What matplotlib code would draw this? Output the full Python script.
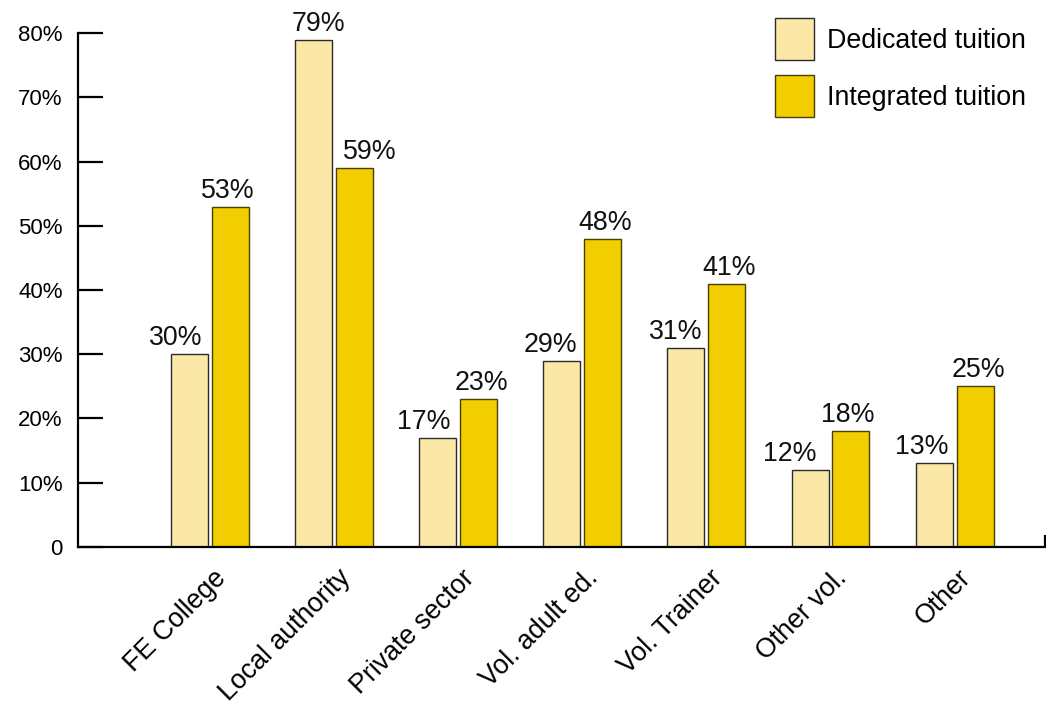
import matplotlib
matplotlib.use("Agg")
import matplotlib.pyplot as plt
import matplotlib.transforms as mtransforms
import numpy as np

plt.rcParams['font.family'] = ['Liberation Sans', 'DejaVu Sans']

categories = ["FE College", "Local authority", "Private sector", "Vol. adult ed.",
              "Vol. Trainer", "Other vol.", "Other"]
dedicated = [30, 79, 17, 29, 31, 12, 13]
integrated = [53, 59, 23, 48, 41, 18, 25]
series_names = ["Dedicated tuition", "Integrated tuition"]
ytick_values = [0, 10, 20, 30, 40, 50, 60, 70, 80]
ytick_labels = ["0", "10%", "20%", "30%", "40%", "50%", "60%", "70%", "80%"]

# style: horizontal nudges (pixels) of value labels
ded_dx = [-14, 5, -14, -11, -10, -20, -12]
int_dx = [-3, 15, 3, 2, 2, -3, 3]

light = "#FCE8A6"
gold = "#F2CE00"
light_edge = "#2b2b2b"
gold_edge = "#4a3f00"

W, H = 1046, 707
fig = plt.figure(figsize=(W / 100, H / 100), dpi=100)
ax_left, ax_right = 78, 1045
ax_top, ax_bottom = 33.3, 546.7
ax = fig.add_axes([ax_left / W, 1 - ax_bottom / H, (ax_right - ax_left) / W, (ax_bottom - ax_top) / H])

x = np.arange(len(categories))
bw = 0.298
off = 0.165
b1 = ax.bar(x - off, dedicated, bw, color=light, edgecolor=light_edge, linewidth=1.0, label=series_names[0])
b2 = ax.bar(x + off, integrated, bw, color=gold, edgecolor=gold_edge, linewidth=1.0, label=series_names[1])

for bars, vals, dxs in ((b1, dedicated, ded_dx), (b2, integrated, int_dx)):
    for rect, v, dx in zip(bars, vals, dxs):
        ax.annotate(f"{v}%", (rect.get_x() + rect.get_width() / 2, v),
                    xytext=(dx * 0.72, 6.5), textcoords="offset points",
                    ha="center", va="baseline", fontsize=19.3, color="#111111",
                    annotation_clip=False)

spacing = 124.1
x0 = 210
ax.set_xlim((ax_left - x0) / spacing, (ax_right - x0) / spacing)
ax.set_ylim(0, 80)

for s in ("top", "right"):
    ax.spines[s].set_visible(False)
ax.spines["left"].set_linewidth(1.6)
ax.spines["bottom"].set_linewidth(1.6)

ax.set_yticks(ytick_values)
ax.set_yticklabels(ytick_labels, fontsize=16)
ax.tick_params(axis="y", direction="in", length=18, width=1.6, pad=11, colors="black")

ax.set_xticks(x)
ax.set_xticklabels(categories, fontsize=19.3, rotation=45, ha="right", rotation_mode="anchor")
ax.tick_params(axis="x", length=0, pad=13)
offset = mtransforms.ScaledTranslation(3 / 100, 0, fig.dpi_scale_trans)
for lab in ax.get_xticklabels():
    lab.set_transform(lab.get_transform() + offset)

# right-end tick of x axis
ax.set_xticks([ax.get_xlim()[1]], minor=True)
ax.tick_params(axis="x", which="minor", direction="in", length=9, width=1.6)

leg = ax.legend(loc="upper right", bbox_to_anchor=(1039 / W, 1 - 5 / H), bbox_transform=fig.transFigure,
                frameon=False, fontsize=19.3, handlelength=1.45, handleheight=2.0,
                labelspacing=0.58, handletextpad=0.48, borderpad=0)

fig.savefig("out.png", dpi=100)
